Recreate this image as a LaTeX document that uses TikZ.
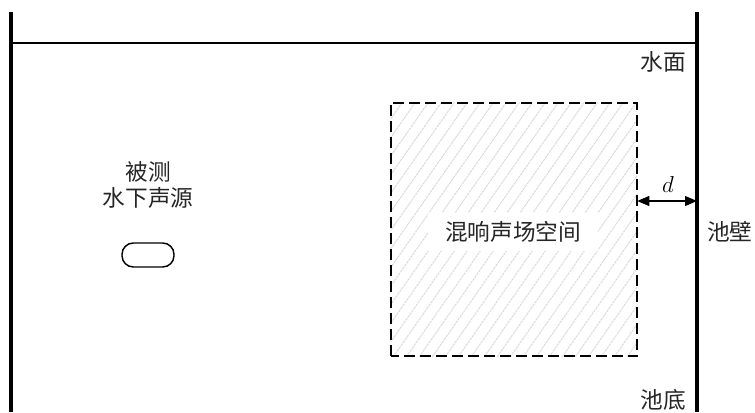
\documentclass[tikz,border=0pt]{standalone}
\usepackage{fontspec}
\newfontfamily\cjk{Noto Sans CJK SC}
\usetikzlibrary{arrows.meta}
\begin{document}
\begin{tikzpicture}[x=0.75pt,y=-0.75pt,
  wall/.style={line width=2.3pt},
  lbl/.style={font=\cjk\fontsize{17}{19}\selectfont, inner sep=0pt, text=black!85},
  hatch/.style={black!15, line width=0.7pt, dash pattern=on 2pt off 0.6pt},
  dim/.style={line width=0.8pt, {Triangle[length=9pt,width=7.5pt]}-{Triangle[length=9pt,width=7.5pt]}}]
\useasboundingbox (0,0) rectangle (755,412);
% walls
\coordinate (lwTop) at (11,12);
\coordinate (lwBot) at (11,412);
\coordinate (rwTop) at (697,12);
\coordinate (rwBot) at (697,412);
\coordinate (sL) at (12,43);
\coordinate (sR) at (697,43);
\draw[wall] (lwTop) -- (lwBot);
\draw[wall] (rwTop) -- (rwBot);
\draw[line width=1pt] (sL) -- (sR);
% reverberant box
\node[minimum width=184.5pt, minimum height=189.75pt, inner sep=0pt] (box) at (514,229.5) {};
\begin{scope}
\clip (box.south west) rectangle (box.north east);
\foreach \i in {-260,-247,...,300}
  \draw[hatch] (391+\i,360) -- (391+\i+210,60);
\end{scope}
\draw[line width=1.5pt, dash pattern=on 8.25pt off 3.75pt] (box.south west) rectangle (box.north east);
\node[lbl, fill=white, inner xsep=13pt, inner ysep=6pt] (rev) at (513,232) {混响声场空间};
% dimension d
\coordinate (wallD) at (697,201);
\draw[dim] (box.east |- wallD) -- (wallD);
\node[font=\itshape\fontsize{16}{18}\selectfont, inner sep=0pt] (d) at (668,184) {$d$};
% labels
\node[lbl, anchor=east] (surf) at (686,62) {水面};
\node[lbl, anchor=west] (wallL) at (707,232) {池壁};
\node[lbl, anchor=east] (bottom) at (686,400) {池底};
\node[lbl] (src1) at (148,172) {被测};
\node[lbl] (src2) at (148,198) {水下声源};
\node[draw, line width=1.1pt, rounded corners=8.5pt, minimum width=39pt, minimum height=18pt, inner sep=0pt] (src) at (148,255) {};
\end{tikzpicture}
\end{document}
